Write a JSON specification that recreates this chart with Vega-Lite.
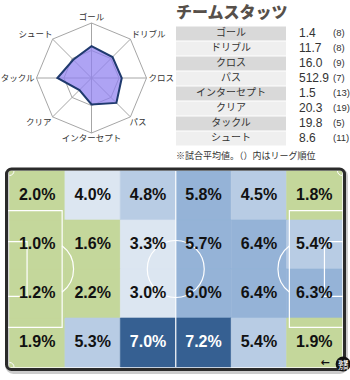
{
  "$schema": "https://vega.github.io/schema/vega-lite/v6.json",
  "padding": 0,
  "background": "white",
  "config": {"view": {"stroke": null}},
  "spacing": 5,
  "datasets": {
    "radar": [
      {"axis": "ゴール", "i": 0, "v": 0.58},
      {"axis": "ドリブル", "i": 1, "v": 0.54},
      {"axis": "クロス", "i": 2, "v": 0.55},
      {"axis": "パス", "i": 3, "v": 0.64},
      {"axis": "インターセプト", "i": 4, "v": 0.48},
      {"axis": "クリア", "i": 5, "v": 0.31},
      {"axis": "タックル", "i": 6, "v": 0.62},
      {"axis": "シュート", "i": 7, "v": 0.47}
    ],
    "stats": [
      {"i": 0, "stat": "ゴール", "val": 1.4, "rank": 8},
      {"i": 1, "stat": "ドリブル", "val": 11.7, "rank": 8},
      {"i": 2, "stat": "クロス", "val": 16.0, "rank": 9},
      {"i": 3, "stat": "パス", "val": 512.9, "rank": 7},
      {"i": 4, "stat": "インターセプト", "val": 1.5, "rank": 13},
      {"i": 5, "stat": "クリア", "val": 20.3, "rank": 19},
      {"i": 6, "stat": "タックル", "val": 19.8, "rank": 5},
      {"i": 7, "stat": "シュート", "val": 8.6, "rank": 11}
    ],
    "heat": [
      {"col": 0, "row": 0, "p": 0.020}, {"col": 1, "row": 0, "p": 0.040}, {"col": 2, "row": 0, "p": 0.048},
      {"col": 3, "row": 0, "p": 0.058}, {"col": 4, "row": 0, "p": 0.045}, {"col": 5, "row": 0, "p": 0.018},
      {"col": 0, "row": 1, "p": 0.010}, {"col": 1, "row": 1, "p": 0.016}, {"col": 2, "row": 1, "p": 0.033},
      {"col": 3, "row": 1, "p": 0.057}, {"col": 4, "row": 1, "p": 0.064}, {"col": 5, "row": 1, "p": 0.054},
      {"col": 0, "row": 2, "p": 0.012}, {"col": 1, "row": 2, "p": 0.022}, {"col": 2, "row": 2, "p": 0.030},
      {"col": 3, "row": 2, "p": 0.060}, {"col": 4, "row": 2, "p": 0.064}, {"col": 5, "row": 2, "p": 0.063},
      {"col": 0, "row": 3, "p": 0.019}, {"col": 1, "row": 3, "p": 0.053}, {"col": 2, "row": 3, "p": 0.070},
      {"col": 3, "row": 3, "p": 0.072}, {"col": 4, "row": 3, "p": 0.054}, {"col": 5, "row": 3, "p": 0.019}
    ],
    "one": [{}]
  },
  "vconcat": [
    {
      "spacing": 0,
      "hconcat": [
        {
          "width": 172,
          "height": 150,
          "data": {"name": "radar"},
          "transform": [
            {"calculate": "sin(datum.i*PI/4)", "as": "sx"},
            {"calculate": "cos(datum.i*PI/4)", "as": "cy"},
            {"calculate": "0.5*datum.sx", "as": "hx"},
            {"calculate": "0.5*datum.cy", "as": "hy"},
            {"calculate": "datum.v*datum.sx", "as": "px"},
            {"calculate": "datum.v*datum.cy", "as": "py"}
          ],
          "layer": [
            {
              "mark": {"type": "line", "interpolate": "linear-closed", "stroke": "#a6a6a6", "strokeWidth": 1},
              "encoding": {
                "x": {"field": "sx", "type": "quantitative", "scale": {"domain": [-1.6636, 1.4636], "nice": false, "zero": false}, "axis": null},
                "y": {"field": "cy", "type": "quantitative", "scale": {"domain": [-1.3091, 1.4182], "nice": false, "zero": false}, "axis": null},
                "order": {"field": "i"}
              }
            },
            {
              "mark": {"type": "line", "interpolate": "linear-closed", "stroke": "#a6a6a6", "strokeWidth": 1},
              "encoding": {
                "x": {"field": "hx", "type": "quantitative", "scale": {"domain": [-1.6636, 1.4636], "nice": false, "zero": false}, "axis": null},
                "y": {"field": "hy", "type": "quantitative", "scale": {"domain": [-1.3091, 1.4182], "nice": false, "zero": false}, "axis": null},
                "order": {"field": "i"}
              }
            },
            {
              "mark": {"type": "rule", "stroke": "#a6a6a6", "strokeWidth": 1},
              "encoding": {
                "x": {"field": "sx", "type": "quantitative", "scale": {"domain": [-1.6636, 1.4636], "nice": false, "zero": false}, "axis": null},
                "y": {"field": "cy", "type": "quantitative", "scale": {"domain": [-1.3091, 1.4182], "nice": false, "zero": false}, "axis": null},
                "x2": {"datum": 0},
                "y2": {"datum": 0}
              }
            },
            {
              "mark": {"type": "line", "interpolate": "linear-closed", "fill": "#8f80f0", "fillOpacity": 0.72, "stroke": "#1f3a6e", "strokeWidth": 2, "strokeJoin": "miter"},
              "encoding": {
                "x": {"field": "px", "type": "quantitative", "scale": {"domain": [-1.6636, 1.4636], "nice": false, "zero": false}, "axis": null},
                "y": {"field": "py", "type": "quantitative", "scale": {"domain": [-1.3091, 1.4182], "nice": false, "zero": false}, "axis": null},
                "order": {"field": "i"}
              }
            },
            {
              "transform": [{"filter": "datum.i == 0"}],
              "mark": {"type": "text", "align": "center", "baseline": "bottom", "dy": -1, "fontSize": 8.5, "font": "Noto Sans CJK JP", "color": "#333333"},
              "encoding": {
                "x": {"field": "sx", "type": "quantitative", "scale": {"domain": [-1.6636, 1.4636], "nice": false, "zero": false}, "axis": null},
                "y": {"field": "cy", "type": "quantitative", "scale": {"domain": [-1.3091, 1.4182], "nice": false, "zero": false}, "axis": null},
                "text": {"field": "axis"}
              }
            },
            {
              "transform": [{"filter": "datum.i == 1"}],
              "mark": {"type": "text", "align": "left", "baseline": "bottom", "dx": 1, "fontSize": 8.5, "font": "Noto Sans CJK JP", "color": "#333333"},
              "encoding": {
                "x": {"field": "sx", "type": "quantitative", "scale": {"domain": [-1.6636, 1.4636], "nice": false, "zero": false}, "axis": null},
                "y": {"field": "cy", "type": "quantitative", "scale": {"domain": [-1.3091, 1.4182], "nice": false, "zero": false}, "axis": null},
                "text": {"field": "axis"}
              }
            },
            {
              "transform": [{"filter": "datum.i == 2"}],
              "mark": {"type": "text", "align": "left", "baseline": "middle", "dx": 2, "fontSize": 8.5, "font": "Noto Sans CJK JP", "color": "#333333"},
              "encoding": {
                "x": {"field": "sx", "type": "quantitative", "scale": {"domain": [-1.6636, 1.4636], "nice": false, "zero": false}, "axis": null},
                "y": {"field": "cy", "type": "quantitative", "scale": {"domain": [-1.3091, 1.4182], "nice": false, "zero": false}, "axis": null},
                "text": {"field": "axis"}
              }
            },
            {
              "transform": [{"filter": "datum.i == 3"}],
              "mark": {"type": "text", "align": "left", "baseline": "top", "dx": -1, "dy": 1, "fontSize": 8.5, "font": "Noto Sans CJK JP", "color": "#333333"},
              "encoding": {
                "x": {"field": "sx", "type": "quantitative", "scale": {"domain": [-1.6636, 1.4636], "nice": false, "zero": false}, "axis": null},
                "y": {"field": "cy", "type": "quantitative", "scale": {"domain": [-1.3091, 1.4182], "nice": false, "zero": false}, "axis": null},
                "text": {"field": "axis"}
              }
            },
            {
              "transform": [{"filter": "datum.i == 4"}],
              "mark": {"type": "text", "align": "center", "baseline": "top", "dy": 1, "fontSize": 8.5, "font": "Noto Sans CJK JP", "color": "#333333"},
              "encoding": {
                "x": {"field": "sx", "type": "quantitative", "scale": {"domain": [-1.6636, 1.4636], "nice": false, "zero": false}, "axis": null},
                "y": {"field": "cy", "type": "quantitative", "scale": {"domain": [-1.3091, 1.4182], "nice": false, "zero": false}, "axis": null},
                "text": {"field": "axis"}
              }
            },
            {
              "transform": [{"filter": "datum.i == 5"}],
              "mark": {"type": "text", "align": "right", "baseline": "top", "dx": -1, "dy": 1, "fontSize": 8.5, "font": "Noto Sans CJK JP", "color": "#333333"},
              "encoding": {
                "x": {"field": "sx", "type": "quantitative", "scale": {"domain": [-1.6636, 1.4636], "nice": false, "zero": false}, "axis": null},
                "y": {"field": "cy", "type": "quantitative", "scale": {"domain": [-1.3091, 1.4182], "nice": false, "zero": false}, "axis": null},
                "text": {"field": "axis"}
              }
            },
            {
              "transform": [{"filter": "datum.i == 6"}],
              "mark": {"type": "text", "align": "right", "baseline": "middle", "dx": -2, "fontSize": 8.5, "font": "Noto Sans CJK JP", "color": "#333333"},
              "encoding": {
                "x": {"field": "sx", "type": "quantitative", "scale": {"domain": [-1.6636, 1.4636], "nice": false, "zero": false}, "axis": null},
                "y": {"field": "cy", "type": "quantitative", "scale": {"domain": [-1.3091, 1.4182], "nice": false, "zero": false}, "axis": null},
                "text": {"field": "axis"}
              }
            },
            {
              "transform": [{"filter": "datum.i == 7"}],
              "mark": {"type": "text", "align": "right", "baseline": "bottom", "fontSize": 8.5, "font": "Noto Sans CJK JP", "color": "#333333"},
              "encoding": {
                "x": {"field": "sx", "type": "quantitative", "scale": {"domain": [-1.6636, 1.4636], "nice": false, "zero": false}, "axis": null},
                "y": {"field": "cy", "type": "quantitative", "scale": {"domain": [-1.3091, 1.4182], "nice": false, "zero": false}, "axis": null},
                "text": {"field": "axis"}
              }
            }
          ]
        },
        {
          "width": 178,
          "height": 161,
          "data": {"name": "stats"},
          "transform": [
            {"calculate": "'(' + datum.rank + ')'", "as": "rk"},
            {"calculate": "datum.i - 0.47", "as": "y0"},
            {"calculate": "datum.i + 0.47", "as": "y1"}
          ],
          "layer": [
            {
              "mark": {"type": "rect"},
              "encoding": {
                "x": {"datum": 1, "type": "quantitative", "scale": {"domain": [0, 178], "nice": false, "zero": false}, "axis": null},
                "x2": {"datum": 111},
                "y": {"field": "y0", "type": "quantitative", "scale": {"domain": [-2.233, 8.5], "reverse": true, "nice": false, "zero": false}, "axis": null},
                "y2": {"field": "y1"},
                "color": {"condition": {"test": "datum.i % 2 === 0", "value": "#d9d9d9"}, "value": "#efefef"}
              }
            },
            {
              "mark": {"type": "text", "align": "center", "baseline": "middle", "fontSize": 10, "font": "Noto Sans CJK JP", "color": "#333333"},
              "encoding": {
                "x": {"datum": 56, "type": "quantitative", "scale": {"domain": [0, 178], "nice": false, "zero": false}, "axis": null},
                "y": {"field": "i", "type": "quantitative", "scale": {"domain": [-2.233, 8.5], "reverse": true, "nice": false, "zero": false}, "axis": null},
                "text": {"field": "stat"}
              }
            },
            {
              "mark": {"type": "text", "align": "left", "baseline": "middle", "fontSize": 12, "font": "Liberation Sans", "color": "#333333"},
              "encoding": {
                "x": {"datum": 124, "type": "quantitative", "scale": {"domain": [0, 178], "nice": false, "zero": false}, "axis": null},
                "y": {"field": "i", "type": "quantitative", "scale": {"domain": [-2.233, 8.5], "reverse": true, "nice": false, "zero": false}, "axis": null},
                "text": {"field": "val", "type": "quantitative", "format": ".1f"}
              }
            },
            {
              "mark": {"type": "text", "align": "left", "baseline": "middle", "fontSize": 9.5, "font": "Liberation Sans", "color": "#333333"},
              "encoding": {
                "x": {"datum": 158, "type": "quantitative", "scale": {"domain": [0, 178], "nice": false, "zero": false}, "axis": null},
                "y": {"field": "i", "type": "quantitative", "scale": {"domain": [-2.233, 8.5], "reverse": true, "nice": false, "zero": false}, "axis": null},
                "text": {"field": "rk"}
              }
            },
            {
              "data": {"name": "one"},
              "mark": {"type": "text", "text": "チームスタッツ", "align": "left", "baseline": "middle", "fontSize": 16, "fontWeight": 900, "font": "Noto Sans CJK JP", "color": "#57504a"},
              "encoding": {
                "x": {"datum": 1, "type": "quantitative", "scale": {"domain": [0, 178], "nice": false, "zero": false}, "axis": null},
                "y": {"datum": -1.367, "type": "quantitative", "scale": {"domain": [-2.233, 8.5], "reverse": true, "nice": false, "zero": false}, "axis": null}
              }
            },
            {
              "data": {"name": "one"},
              "mark": {"type": "text", "text": "※試合平均値。（）内はリーグ順位", "align": "left", "baseline": "middle", "fontSize": 9, "font": "Noto Sans CJK JP", "color": "#333333"},
              "encoding": {
                "x": {"datum": 1, "type": "quantitative", "scale": {"domain": [0, 178], "nice": false, "zero": false}, "axis": null},
                "y": {"datum": 8.167, "type": "quantitative", "scale": {"domain": [-2.233, 8.5], "reverse": true, "nice": false, "zero": false}, "axis": null}
              }
            }
          ]
        }
      ]
    },
    {
      "width": 350,
      "height": 210,
      "data": {"name": "one"},
      "layer": [
        {
          "mark": {"type": "rect", "fillOpacity": 0, "stroke": "#cccccc", "strokeWidth": 4, "cornerRadius": 6},
          "encoding": {
            "x": {"datum": -0.04, "type": "quantitative", "scale": {"domain": [-0.1714, 6.144], "nice": false, "zero": false}, "axis": null},
            "x2": {"datum": 6.07},
            "y": {"datum": -0.1, "type": "quantitative", "scale": {"domain": [-0.2041, 4.0816], "nice": false, "zero": false}, "axis": null},
            "y2": {"datum": 4.02}
          }
        },
        {
          "data": {"name": "heat"},
          "transform": [
            {"calculate": "datum.col + 1", "as": "col2"},
            {"calculate": "4 - datum.row", "as": "yt"},
            {"calculate": "3 - datum.row", "as": "yb"}
          ],
          "mark": {"type": "rect", "strokeWidth": 0.6},
          "encoding": {
            "x": {"field": "col", "type": "quantitative", "scale": {"domain": [-0.1714, 6.144], "nice": false, "zero": false}, "axis": null},
            "x2": {"field": "col2"},
            "y": {"field": "yb", "type": "quantitative", "scale": {"domain": [-0.2041, 4.0816], "nice": false, "zero": false}, "axis": null},
            "y2": {"field": "yt"},
            "color": {"field": "p", "type": "quantitative", "scale": {"type": "threshold", "domain": [0.025, 0.042, 0.055, 0.065], "range": ["#c4d79b", "#dce6f1", "#b8cce4", "#95b3d7", "#366092"]}, "legend": null},
            "stroke": {"field": "p", "type": "quantitative", "scale": {"type": "threshold", "domain": [0.025, 0.042, 0.055, 0.065], "range": ["#c4d79b", "#dce6f1", "#b8cce4", "#95b3d7", "#366092"]}, "legend": null}
          }
        },
        {
          "mark": {"type": "rect", "fillOpacity": 0, "stroke": "white", "strokeWidth": 1.2},
          "encoding": {
            "x": {"datum": -0.035, "type": "quantitative", "scale": {"domain": [-0.1714, 6.144], "nice": false, "zero": false}, "axis": null},
            "x2": {"datum": 0.95},
            "y": {"datum": 0.81, "type": "quantitative", "scale": {"domain": [-0.2041, 4.0816], "nice": false, "zero": false}, "axis": null},
            "y2": {"datum": 3.19}
          }
        },
        {
          "mark": {"type": "rect", "fillOpacity": 0, "stroke": "white", "strokeWidth": 1.2},
          "encoding": {
            "x": {"datum": -0.035, "type": "quantitative", "scale": {"domain": [-0.1714, 6.144], "nice": false, "zero": false}, "axis": null},
            "x2": {"datum": 0.317},
            "y": {"datum": 1.44, "type": "quantitative", "scale": {"domain": [-0.2041, 4.0816], "nice": false, "zero": false}, "axis": null},
            "y2": {"datum": 2.56}
          }
        },
        {
          "mark": {"type": "rect", "fillOpacity": 0, "stroke": "white", "strokeWidth": 1.2},
          "encoding": {
            "x": {"datum": 5.05, "type": "quantitative", "scale": {"domain": [-0.1714, 6.144], "nice": false, "zero": false}, "axis": null},
            "x2": {"datum": 6.035},
            "y": {"datum": 0.81, "type": "quantitative", "scale": {"domain": [-0.2041, 4.0816], "nice": false, "zero": false}, "axis": null},
            "y2": {"datum": 3.19}
          }
        },
        {
          "mark": {"type": "rect", "fillOpacity": 0, "stroke": "white", "strokeWidth": 1.2},
          "encoding": {
            "x": {"datum": 5.683, "type": "quantitative", "scale": {"domain": [-0.1714, 6.144], "nice": false, "zero": false}, "axis": null},
            "x2": {"datum": 6.035},
            "y": {"datum": 1.44, "type": "quantitative", "scale": {"domain": [-0.2041, 4.0816], "nice": false, "zero": false}, "axis": null},
            "y2": {"datum": 2.56}
          }
        },
        {
          "mark": {"type": "rule", "stroke": "white", "strokeWidth": 1.2},
          "encoding": {
            "x": {"datum": 3, "type": "quantitative", "scale": {"domain": [-0.1714, 6.144], "nice": false, "zero": false}, "axis": null},
            "y": {"datum": 0, "type": "quantitative", "scale": {"domain": [-0.2041, 4.0816], "nice": false, "zero": false}, "axis": null},
            "y2": {"datum": 4}
          }
        },
        {
          "mark": {"type": "point", "shape": "circle", "filled": false, "color": "white", "opacity": 1, "strokeWidth": 1.2, "size": 3249},
          "encoding": {
            "x": {"datum": 3, "type": "quantitative", "scale": {"domain": [-0.1714, 6.144], "nice": false, "zero": false}, "axis": null},
            "y": {"datum": 2, "type": "quantitative", "scale": {"domain": [-0.2041, 4.0816], "nice": false, "zero": false}, "axis": null}
          }
        },
        {
          "mark": {"type": "point", "shape": "M 0.6 -0.8 A 1 1 0 0 1 0.6 0.8", "filled": false, "color": "white", "opacity": 1, "strokeWidth": 1.2, "size": 3364},
          "encoding": {
            "x": {"datum": 0.633, "type": "quantitative", "scale": {"domain": [-0.1714, 6.144], "nice": false, "zero": false}, "axis": null},
            "y": {"datum": 2, "type": "quantitative", "scale": {"domain": [-0.2041, 4.0816], "nice": false, "zero": false}, "axis": null}
          }
        },
        {
          "mark": {"type": "point", "shape": "M -0.6 -0.8 A 1 1 0 0 0 -0.6 0.8", "filled": false, "color": "white", "opacity": 1, "strokeWidth": 1.2, "size": 3364},
          "encoding": {
            "x": {"datum": 5.367, "type": "quantitative", "scale": {"domain": [-0.1714, 6.144], "nice": false, "zero": false}, "axis": null},
            "y": {"datum": 2, "type": "quantitative", "scale": {"domain": [-0.2041, 4.0816], "nice": false, "zero": false}, "axis": null}
          }
        },
        {
          "mark": {"type": "point", "shape": "M 1 0 A 1 1 0 0 1 0 1", "filled": false, "color": "white", "opacity": 1, "strokeWidth": 1, "size": 81},
          "encoding": {
            "x": {"datum": 0, "type": "quantitative", "scale": {"domain": [-0.1714, 6.144], "nice": false, "zero": false}, "axis": null},
            "y": {"datum": 4, "type": "quantitative", "scale": {"domain": [-0.2041, 4.0816], "nice": false, "zero": false}, "axis": null}
          }
        },
        {
          "mark": {"type": "point", "shape": "M 0 1 A 1 1 0 0 1 -1 0", "filled": false, "color": "white", "opacity": 1, "strokeWidth": 1, "size": 81},
          "encoding": {
            "x": {"datum": 6, "type": "quantitative", "scale": {"domain": [-0.1714, 6.144], "nice": false, "zero": false}, "axis": null},
            "y": {"datum": 4, "type": "quantitative", "scale": {"domain": [-0.2041, 4.0816], "nice": false, "zero": false}, "axis": null}
          }
        },
        {
          "mark": {"type": "point", "shape": "M 0 -1 A 1 1 0 0 1 1 0", "filled": false, "color": "white", "opacity": 1, "strokeWidth": 1, "size": 81},
          "encoding": {
            "x": {"datum": 0, "type": "quantitative", "scale": {"domain": [-0.1714, 6.144], "nice": false, "zero": false}, "axis": null},
            "y": {"datum": 0, "type": "quantitative", "scale": {"domain": [-0.2041, 4.0816], "nice": false, "zero": false}, "axis": null}
          }
        },
        {
          "data": {"name": "heat"},
          "transform": [
            {"calculate": "datum.col + 0.5", "as": "xm"},
            {"calculate": "3.5 - datum.row", "as": "ym"}
          ],
          "mark": {"type": "text", "fontSize": 16, "fontWeight": "bold", "font": "Liberation Sans", "baseline": "middle", "align": "center"},
          "encoding": {
            "x": {"field": "xm", "type": "quantitative", "scale": {"domain": [-0.1714, 6.144], "nice": false, "zero": false}, "axis": null},
            "y": {"field": "ym", "type": "quantitative", "scale": {"domain": [-0.2041, 4.0816], "nice": false, "zero": false}, "axis": null},
            "text": {"field": "p", "type": "quantitative", "format": ".1%"},
            "color": {"condition": {"test": "datum.p > 0.065", "value": "white"}, "value": "#111111"}
          }
        },
        {
          "mark": {"type": "rect", "fillOpacity": 0, "stroke": "#2b2b2b", "strokeWidth": 3, "cornerRadius": 5},
          "encoding": {
            "x": {"datum": -0.054, "type": "quantitative", "scale": {"domain": [-0.1714, 6.144], "nice": false, "zero": false}, "axis": null},
            "x2": {"datum": 6.045},
            "y": {"datum": -0.051, "type": "quantitative", "scale": {"domain": [-0.2041, 4.0816], "nice": false, "zero": false}, "axis": null},
            "y2": {"datum": 4.041}
          }
        },
        {
          "mark": {"type": "text", "text": "←", "fontSize": 11, "fontWeight": "bold", "font": "DejaVu Sans", "color": "#111111", "baseline": "middle", "align": "center"},
          "encoding": {
            "x": {"datum": 5.693, "type": "quantitative", "scale": {"domain": [-0.1714, 6.144], "nice": false, "zero": false}, "axis": null},
            "y": {"datum": 0.08, "type": "quantitative", "scale": {"domain": [-0.2041, 4.0816], "nice": false, "zero": false}, "axis": null}
          }
        },
        {
          "mark": {"type": "point", "shape": "circle", "filled": true, "color": "#111111", "opacity": 1, "size": 225},
          "encoding": {
            "x": {"datum": 6.02, "type": "quantitative", "scale": {"domain": [-0.1714, 6.144], "nice": false, "zero": false}, "axis": null},
            "y": {"datum": 0.061, "type": "quantitative", "scale": {"domain": [-0.2041, 4.0816], "nice": false, "zero": false}, "axis": null}
          }
        },
        {
          "mark": {"type": "text", "text": ["攻撃", "方向"], "fontSize": 5, "lineHeight": 5.5, "font": "Noto Sans CJK JP", "fontWeight": "bold", "color": "white", "baseline": "middle", "align": "center", "dy": -2.5},
          "encoding": {
            "x": {"datum": 6.02, "type": "quantitative", "scale": {"domain": [-0.1714, 6.144], "nice": false, "zero": false}, "axis": null},
            "y": {"datum": 0.061, "type": "quantitative", "scale": {"domain": [-0.2041, 4.0816], "nice": false, "zero": false}, "axis": null}
          }
        }
      ]
    }
  ]
}
